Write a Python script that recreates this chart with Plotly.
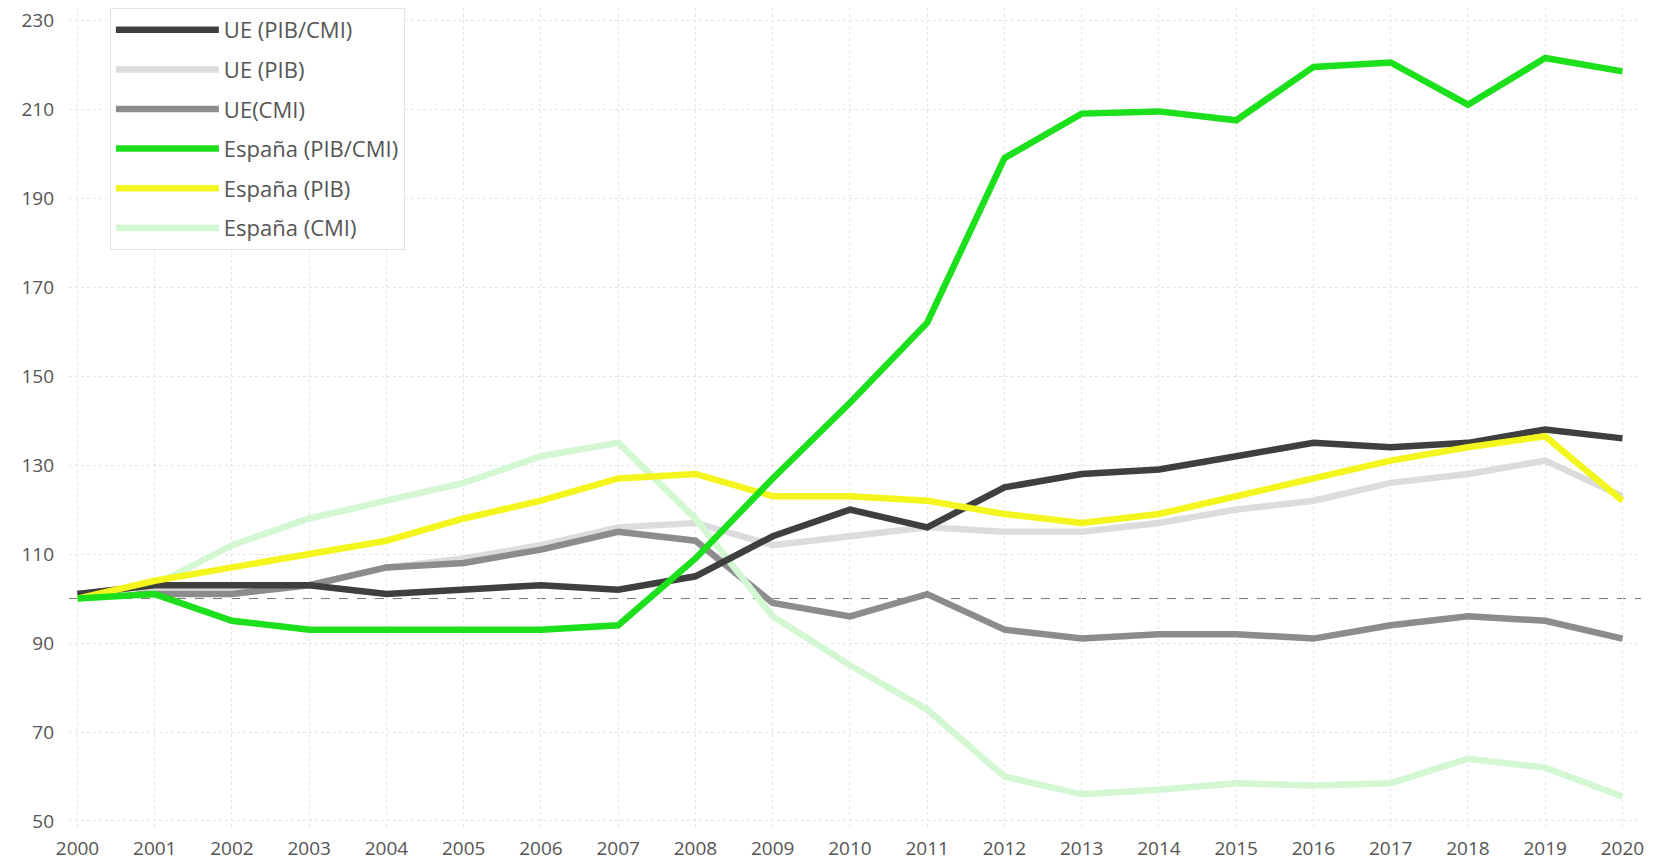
import plotly.graph_objects as go

# years on the x axis
years = list(range(2000, 2021))

# index values (2000 = 100)
ue_pib_cmi = [101, 103, 103, 103, 101, 102, 103, 102, 105, 114, 120, 116, 125, 128, 129, 132, 135, 134, 135, 138, 136]
ue_pib = [101, 102, 102, 103, 107, 109, 112, 116, 117, 112, 114, 116, 115, 115, 117, 120, 122, 126, 128, 131, 123]
ue_cmi = [101, 101, 101, 103, 107, 108, 111, 115, 113, 99, 96, 101, 93, 91, 92, 92, 91, 94, 96, 95, 91]
es_pib_cmi = [100, 101, 95, 93, 93, 93, 93, 94, 109, 127, 144, 162, 199, 209, 209.5, 207.5, 219.5, 220.5, 211, 221.5, 218.5]
es_pib = [100, 104, 107, 110, 113, 118, 122, 127, 128, 123, 123, 122, 119, 117, 119, 123, 127, 131, 134, 136.5, 122]
es_cmi = [100, 103, 112, 118, 122, 126, 132, 135, 118, 96, 85, 75, 60, 56, 57, 58.5, 58, 58.5, 64, 62, 55.5]

yticks = [50, 70, 90, 110, 130, 150, 170, 190, 210, 230]

# (name, values, colour, legend rank), listed in drawing order
series = [
    ("UE (PIB)", ue_pib, "#dcdcdc", 2),
    ("UE(CMI)", ue_cmi, "#8c8c8c", 3),
    ("España (CMI)", es_cmi, "#d3f6d3", 6),
    ("UE (PIB/CMI)", ue_pib_cmi, "#3f3f3f", 1),
    ("España (PIB)", es_pib, "#f5f51e", 5),
    ("España (PIB/CMI)", es_pib_cmi, "#1be01b", 4),
]

fig = go.Figure()
for name, vals, color, rank in series:
    fig.add_trace(go.Scatter(
        x=years, y=vals, name=name, mode="lines",
        line=dict(color=color, width=6.5),
        legendgroup=name, legendrank=rank,
    ))

# reference line at 100
fig.add_shape(type="line", xref="paper", x0=0, x1=1, y0=100, y1=100,
              line=dict(color="#777777", width=1, dash="dash"), layer="below")

# the page body keeps its default 8px margin, so the figure is 8px smaller
fig.update_layout(
    width=1657, height=855,
    margin=dict(l=61, r=24, t=0, b=36),
    paper_bgcolor="white", plot_bgcolor="white",
    font=dict(family="Open Sans, sans-serif", size=19, color="#555555"),
    showlegend=True,
    legend=dict(
        x=0.026, y=1.0, xanchor="left", yanchor="top",
        bgcolor="white", bordercolor="#e4e4e4", borderwidth=1,
        font=dict(size=22, color="#555555"),
        traceorder="grouped", tracegroupgap=8,
        itemwidth=103,
    ),
)
fig.update_xaxes(
    range=[1999.89, 2020.24], tickvals=years, ticktext=[str(y) for y in years],
    showgrid=True, gridcolor="#e6e6e6", griddash="dot", gridwidth=1,
    zeroline=False, showline=False, ticks="", ticklabelstandoff=8,
    automargin=False, tickfont=dict(size=19), ticklabeloverflow="allow",
)
fig.update_yaxes(
    range=[48.65, 232.74], tickvals=yticks,
    showgrid=True, gridcolor="#e6e6e6", griddash="dot", gridwidth=1,
    zeroline=False, showline=False, ticks="", ticklabelstandoff=14,
    automargin=False, tickfont=dict(size=19), ticklabeloverflow="allow",
)

fig.write_html("out.html")
